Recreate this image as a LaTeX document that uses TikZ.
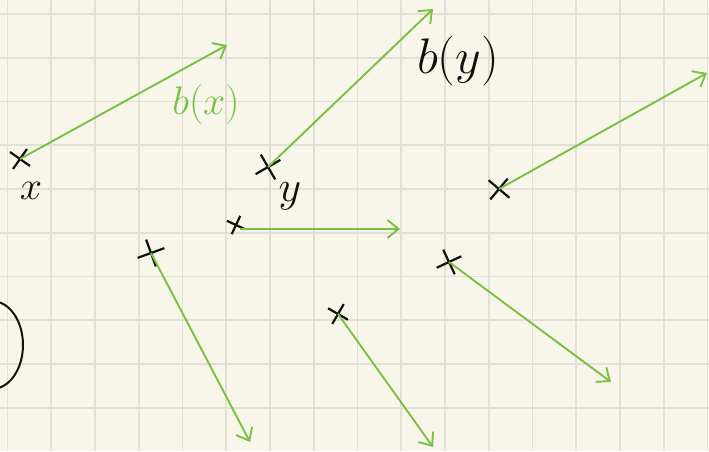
\RequirePackage{fix-cm}
\documentclass[tikz,border=0pt]{standalone}
\usetikzlibrary{arrows.meta,positioning,shapes.misc}
\definecolor{padcream}{HTML}{F8F6EA}
\definecolor{padgrid}{HTML}{E2E0D6}
\definecolor{padgreen}{HTML}{7AC143}
\definecolor{padink}{HTML}{111111}
\tikzset{
  vec/.style={-{Straight Barb[length=11pt,width=18pt]}, line width=1.9pt, color=padgreen},
  tick/.style={cross out, draw=padink, line width=2.2pt, minimum size=15pt, inner sep=0pt},
  lbl/.style={inner sep=0pt, text=padink},
}

\begin{document}
\begin{tikzpicture}[x=1pt, y=-1pt]
    \useasboundingbox (0,0) rectangle (709,451);
    \fill[padcream] (0,0) rectangle (709,451);
    % squared paper
    \foreach \k in {0,...,16}
      \draw[padgrid, line width=1.8pt] ({7.5+43.75*\k},0) -- ({7.5+43.75*\k},451);
    \foreach \k in {0,...,9}
      \draw[padgrid, line width=1.8pt] (0,{14+43.75*\k}) -- (709,{14+43.75*\k});

    % tails
    \node[tick, rotate=10] (px) at (20,159) {};
    \node[tick, rotate=-15, minimum size=18pt] (py) at (268,167) {};
    \node[tick, rotate=5, minimum size=17pt] (pr) at (499,189) {};
    \node[tick, rotate=20, minimum size=12pt] (pm) at (236,225) {};
    \node[tick, rotate=-25, minimum size=18pt] (pl) at (151,253) {};
    \node[tick, rotate=15, minimum size=14pt] (pb) at (338,314) {};
    \node[tick, rotate=-20, minimum size=17pt] (pc) at (449,262) {};

    % heads
    \coordinate (hx) at (227,45);
    \coordinate (hy) at (433,9);
    \coordinate (hr) at (707,73);
    \coordinate (hm) at (400,229);
    \coordinate (hl) at (250,442);
    \coordinate (hb) at (433,447);
    \coordinate (hc) at (611,382);

    \draw[vec] (px.center) -- (hx);
    \draw[vec] (py.center) -- (hy);
    \draw[vec] (pr.center) -- (hr);
    \draw[vec] (pm.center) ++(4,4) -- (hm);
    \draw[vec] (pl.center) -- (hl);
    \draw[vec] (pb.center) -- (hb);
    \draw[vec] (pc.center) -- (hc);

    % labels
    \node[lbl, font=\fontsize{40}{40}\selectfont] (lx) at (31,191) {$x$};
    \node[lbl, font=\fontsize{44}{44}\selectfont] (ly) at (290,196) {$y$};
    \node[lbl, font=\fontsize{40}{40}\selectfont, text=padgreen] (lbx) at (206,104) {$b(x)$};
    \node[lbl, font=\fontsize{50}{50}\selectfont] (lby) at (458,61) {$b(y)$};

    % arc at the left edge
    \begin{scope}
      \clip (0,0) rectangle (709,451);
      \draw[padink, line width=2pt] (-8,345) ellipse [x radius=31, y radius=44];
    \end{scope}
  \end{tikzpicture}
\end{document}
